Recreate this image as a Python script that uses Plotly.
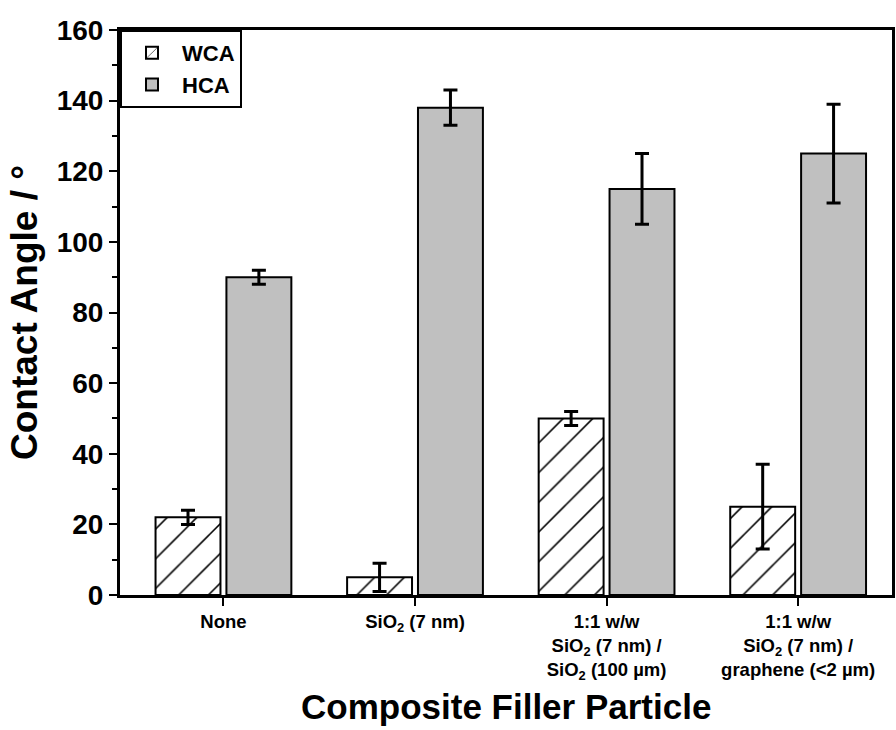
import plotly.graph_objects as go

categories = [
    "None",
    "SiO<sub>2</sub> (7 nm)",
    "1:1 w/w<br>SiO<sub>2</sub> (7 nm) /<br>SiO<sub>2</sub> (100 µm)",
    "1:1 w/w<br>SiO<sub>2</sub> (7 nm) /<br>graphene (<2 µm)",
]
wca = [22, 5, 50, 25]
wca_err = [2, 4, 2, 12]
hca = [90, 138, 115, 125]
hca_err = [2, 5, 10, 14]

x_title = "Composite Filler Particle"
y_title = "Contact Angle / °"

font_family = "Liberation Sans, Arial, sans-serif"

fig = go.Figure()
fig.add_trace(go.Bar(
    x=categories, y=wca, name="<b>WCA</b>",
    marker=dict(color="white", line=dict(color="black", width=2),
                pattern=dict(shape="/", fgcolor="black", bgcolor="white", size=21, solidity=0.075, fgopacity=1)),
    error_y=dict(type="data", array=wca_err, visible=True, color="black", thickness=3, width=7),
))
fig.add_trace(go.Bar(
    x=categories, y=hca, name="<b>HCA</b>",
    marker=dict(color="#c0c0c0", line=dict(color="black", width=2)),
    error_y=dict(type="data", array=hca_err, visible=True, color="black", thickness=3, width=7),
))

fig.update_layout(
    width=896, height=730,
    margin=dict(l=120, r=1, t=30, b=135),
    paper_bgcolor="white", plot_bgcolor="white",
    barmode="group", bargap=0.26, bargroupgap=0.084,
    font=dict(family=font_family, color="black"),
    showlegend=True,
    legend=dict(x=0, y=1, xanchor="left", yanchor="top",
                bordercolor="black", borderwidth=2, bgcolor="white",
                font=dict(size=22, family=font_family), itemwidth=50,
                tracegroupgap=0),
    annotations=[dict(
        text=f"<b>{x_title}</b>", xref="paper", yref="paper", x=0.5, y=-0.198,
        xanchor="center", yanchor="middle", showarrow=False,
        font=dict(size=35, family=font_family, color="black"),
    )],
)
fig.update_xaxes(
    type="category", range=[-0.54, 3.49],
    showline=True, linecolor="black", linewidth=3, mirror=True,
    ticks="outside", ticklen=8, tickwidth=2, tickcolor="black",
    tickfont=dict(size=18.5, family=font_family),
    tickprefix="<b>", ticksuffix="</b>",
    showgrid=False, zeroline=False,
)
fig.update_yaxes(
    range=[0, 160], dtick=20,
    showline=True, linecolor="black", linewidth=3, mirror=True,
    ticks="outside", ticklen=8, tickwidth=2, tickcolor="black",
    minor=dict(dtick=10, ticks="outside", ticklen=5, tickwidth=2, tickcolor="black", showgrid=False),
    tickfont=dict(size=28, family=font_family),
    tickprefix="<b>", ticksuffix="</b>",
    title=dict(text=f"<b>{y_title}</b>", font=dict(size=37, family=font_family), standoff=8),
    showgrid=False, zeroline=False,
)

fig.write_html("out.html")
